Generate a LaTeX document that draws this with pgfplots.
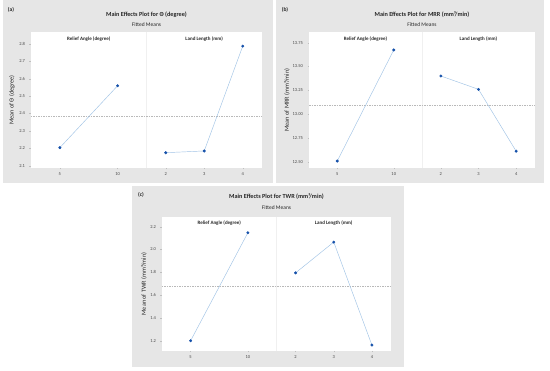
\documentclass[border=0pt]{standalone}
\usepackage{fontspec}
\setmainfont{Carlito}
\usepackage{pgfplots}
\pgfplotsset{compat=1.18}
\definecolor{panelgray}{RGB}{230,230,230}
\definecolor{lineblue}{RGB}{160,195,230}
\definecolor{markblue}{RGB}{20,80,170}
\definecolor{ticklab}{RGB}{70,70,70}
\definecolor{meangray}{RGB}{185,185,185}
\pgfplotsset{
  me/.style={
    scale only axis, anchor=south west,
    xmin=0, xmax=6,
    xtick={0.75,2.25,3.5,4.5,5.5}, xticklabels={5,10,2,3,4},
    axis background/.style={fill=white},
    axis line style={draw=none},
    tick align=outside, major tick length=1.5pt,
    tick style={draw=gray!50, line width=0.3pt},
    ticklabel style={font=\fontsize{4.5}{5}\selectfont, text=ticklab},
    yticklabel style={xshift=-1pt},
    /pgf/number format/assume math mode=true,
    xtick pos=lower, ytick pos=left,
    clip=false,
  },
  dat/.style={color=lineblue, line width=0.45pt, mark=*, mark size=1.25pt,
    mark options={fill=markblue, draw=markblue}},
  mean/.style={color=meangray, line width=0.5pt, dash pattern=on 1.5pt off 1pt},
  sep/.style={color=gray!12, line width=0.4pt},
}
\begin{document}
\begin{tikzpicture}
\path[use as bounding box] (0pt,0pt) rectangle (550pt,371pt);
% panel backgrounds
\fill[panelgray] (3pt,188pt) rectangle (273pt,371pt);
\fill[panelgray] (276pt,188pt) rectangle (544pt,371pt);
\fill[panelgray] (132pt,4pt) rectangle (404pt,185pt);

% (a)
\begin{axis}[me, at={(31pt,203pt)}, width=231pt, height=136pt,
  ymin=2.087, ymax=2.869, ytick={2.1,2.2,...,2.8},
  yticklabel style={/pgf/number format/.cd, fixed, fixed zerofill, precision=1}]
  \addplot[sep] coordinates {(3,2.087) (3,2.869)};
  \addplot[mean] coordinates {(0,2.383) (6,2.383)};
  \addplot[dat] coordinates {(0.75,2.204) (2.25,2.560)};
  \addplot[dat] coordinates {(3.5,2.175) (4.5,2.185) (5.5,2.788)};
\end{axis}

% (b)
\begin{axis}[me, at={(309pt,203pt)}, width=226pt, height=136pt,
  ymin=12.434, ymax=13.862, ytick={12.5,12.75,13,13.25,13.5,13.75},
  yticklabel style={/pgf/number format/.cd, fixed, fixed zerofill, precision=2}]
  \addplot[sep] coordinates {(3,12.434) (3,13.862)};
  \addplot[mean] coordinates {(0,13.09) (6,13.09)};
  \addplot[dat] coordinates {(0.75,12.507) (2.25,13.673)};
  \addplot[dat] coordinates {(3.5,13.40) (4.5,13.26) (5.5,12.61)};
\end{axis}

% (c)
\begin{axis}[me, at={(162pt,20pt)}, width=229pt, height=134pt,
  ymin=1.11, ymax=2.285, ytick={1.2,1.4,...,2.2},
  yticklabel style={/pgf/number format/.cd, fixed, fixed zerofill, precision=1}]
  \addplot[sep] coordinates {(3,1.11) (3,2.285)};
  \addplot[mean] coordinates {(0,1.674) (6,1.674)};
  \addplot[dat] coordinates {(0.75,1.200) (2.25,2.147)};
  \addplot[dat] coordinates {(3.5,1.795) (4.5,2.065) (5.5,1.162)};
\end{axis}

% titles
\begin{scope}[every node/.style={inner sep=0pt, text=black!85}]
\node[font=\fontsize{6.2}{7}\selectfont\bfseries] at (146.5pt,356pt) {Main Effects Plot for Θ (degree)};
\node[font=\fontsize{5.5}{6}\selectfont] at (146.5pt,346.5pt) {Fitted Means};
\node[font=\fontsize{6.2}{7}\selectfont\bfseries] at (422pt,356pt) {Main Effects Plot for MRR (mm³/min)};
\node[font=\fontsize{5.5}{6}\selectfont] at (422pt,346.5pt) {Fitted Means};
\node[font=\fontsize{6.2}{7}\selectfont\bfseries] at (276.5pt,174pt) {Main Effects Plot for TWR (mm³/min)};
\node[font=\fontsize{5.5}{6}\selectfont] at (276.5pt,163.5pt) {Fitted Means};
% panel letters
\node[font=\fontsize{5.5}{6}\selectfont\bfseries] at (11pt,361pt) {(a)};
\node[font=\fontsize{5.5}{6}\selectfont\bfseries] at (285pt,361pt) {(b)};
\node[font=\fontsize{5.5}{6}\selectfont\bfseries] at (141pt,176pt) {(c)};
% facet labels
\node[font=\fontsize{5}{6}\selectfont\bfseries] at (88.75pt,332pt) {Relief Angle (degree)};
\node[font=\fontsize{5}{6}\selectfont\bfseries] at (204.25pt,332pt) {Land Length (mm)};
\node[font=\fontsize{5}{6}\selectfont\bfseries] at (365.5pt,332pt) {Relief Angle (degree)};
\node[font=\fontsize{5}{6}\selectfont\bfseries] at (478.5pt,332pt) {Land Length (mm)};
\node[font=\fontsize{5}{6}\selectfont\bfseries] at (219.25pt,148pt) {Relief Angle (degree)};
\node[font=\fontsize{5}{6}\selectfont\bfseries] at (333.75pt,148pt) {Land Length (mm)};
% y labels
\node[font=\fontsize{6.2}{7}\selectfont, rotate=90] at (12pt,271pt) {Mean of Θ (degree)};
\node[font=\fontsize{6.2}{7}\selectfont, rotate=90] at (287pt,271pt) {Mean of MRR (mm³/min)};
\node[font=\fontsize{6.2}{7}\selectfont, rotate=90] at (144pt,87pt) {Mean of TWR (mm³/min)};
\end{scope}
\end{tikzpicture}
\end{document}
